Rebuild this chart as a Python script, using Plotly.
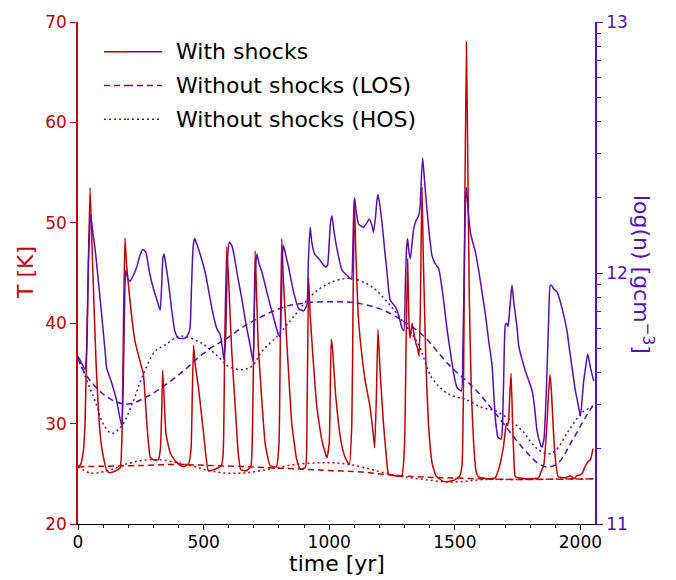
import plotly.graph_objects as go
import numpy as np

RED = "#c40000"
PURPLE = "#5a0db5"
FONT = "DejaVu Sans"

# ---------------- data ----------------
# With shocks: temperature [K]
t_T_shock = [0, 10, 20, 28, 38, 48, 58, 72, 88, 100, 115, 127, 150, 168, 176, 182, 187, 193, 200, 212,
             227, 247, 260, 274, 287, 300, 320, 328, 333, 337, 342, 350, 368, 390, 418, 440, 450, 455, 460, 466,
             480, 500, 519, 540, 570, 578, 584, 592, 600, 612, 625, 638, 648, 670, 688, 696, 705, 712, 718, 730,
             745, 765, 790, 800, 806, 811, 818, 831, 851, 870, 884, 905, 912, 918, 924, 931, 951, 971, 991, 1000,
             1004, 1008, 1013, 1025, 1037, 1050, 1064, 1080, 1090, 1095, 1100, 1106, 1115, 1124, 1143, 1163, 1175, 1181, 1188, 1194,
             1203, 1216, 1228, 1236, 1260, 1289, 1300, 1306, 1312, 1318, 1322, 1330, 1337, 1345, 1352, 1358, 1363, 1369, 1375, 1385,
             1395, 1410, 1425, 1450, 1470, 1500, 1520, 1529, 1535, 1540, 1546, 1552, 1558, 1566, 1575, 1585, 1594, 1630, 1661, 1675,
             1693, 1705, 1709, 1714, 1719, 1724, 1730, 1736, 1741, 1780, 1833, 1845, 1855, 1865, 1873, 1879, 1885, 1893, 1902, 1912,
             1940, 1960, 1975, 1985, 2000, 2010, 2020, 2030, 2040, 2050]
T_shock = [25.7, 25.9, 27, 30, 42, 53.5, 46, 36, 29, 26.8, 25.3, 25.1, 25.3, 25.6, 30, 42, 48.5, 46, 44, 41,
           38.2, 36.2, 35, 30, 26.7, 26.4, 26.4, 27.5, 31, 35.3, 33, 29, 27, 26.2, 25.7, 26, 27.5, 33, 37.8, 36,
           33.5, 29, 25.3, 25.4, 25.8, 27, 38, 47.6, 44, 37.2, 32, 27, 25.4, 25.3, 25.7, 32, 47.2, 42, 37.5, 33,
           28, 25.8, 25.7, 28, 40, 48.4, 44, 38.2, 30, 26.5, 25.5, 25.6, 32, 44.5, 41, 38.2, 31.6, 28.3, 26.6, 28,
           33, 38.4, 37.5, 33, 30, 27.8, 26.6, 25.9, 30, 42, 52.3, 47, 41, 38.2, 34.3, 31.6, 29, 27.6, 33, 39.4,
           35, 30, 26.5, 25.0, 24.8, 24.8, 28, 38, 46.4, 39.7, 38.5, 40, 39, 38, 37.5, 36.7, 42, 53.5, 46, 36,
           30, 26, 24.8, 24.3, 24.2, 24.4, 24.8, 26, 35, 52, 68, 55, 42, 33, 28, 25.2, 24.7, 24.5, 24.6, 25.5,
           27.6, 30, 29.8, 30.3, 33, 35.0, 30, 26, 24.7, 24.5, 24.6, 25.3, 26, 29.3, 33, 34.9, 33, 29, 26, 24.7,
           24.6, 24.8, 24.5, 24.8, 24.9, 25.2, 25.8, 26.2, 26.4, 27.5]

# With shocks: log(n)
t_n_shock = [0, 10, 20, 28, 35, 42, 50, 58, 68, 88, 108, 114, 135, 154, 174, 180, 185, 190, 198, 207,
             220, 234, 248, 258, 270, 285, 300, 315, 327, 333, 338, 343, 350, 360, 372, 386, 400, 426, 440, 446,
             452, 458, 464, 475, 486, 506, 520, 533, 552, 566, 575, 581, 588, 595, 602, 612, 619, 635, 652, 668,
             685, 697, 702, 708, 712, 720, 732, 748, 765, 782, 798, 804, 810, 814, 818, 825, 838, 858, 878, 898,
             911, 917, 924, 931, 942, 964, 985, 993, 1000, 1005, 1011, 1020, 1031, 1051, 1071, 1088, 1094, 1098, 1101, 1108,
             1117, 1137, 1150, 1159, 1170, 1176, 1184, 1190, 1194, 1200, 1210, 1220, 1230, 1243, 1263, 1276, 1290, 1297, 1303, 1308,
             1312, 1318, 1323, 1330, 1336, 1346, 1356, 1362, 1366, 1372, 1380, 1389, 1400, 1409, 1420, 1436, 1446, 1456, 1466, 1476,
             1486, 1496, 1509, 1526, 1532, 1538, 1542, 1546, 1552, 1562, 1572, 1582, 1595, 1608, 1622, 1635, 1648, 1661, 1672, 1685,
             1690, 1695, 1701, 1706, 1712, 1718, 1724, 1728, 1735, 1748, 1754, 1781, 1808, 1818, 1827, 1840, 1847, 1855, 1865, 1873,
             1880, 1885, 1895, 1907, 1927, 1947, 1953, 1965, 1980, 1990, 2000, 2007, 2013, 2020, 2029, 2035, 2040, 2053]
logn_shock = [11.668, 11.650, 11.630, 11.615, 11.70, 12.05, 12.234, 12.17, 12.096, 11.898, 11.688, 11.622, 11.56, 11.49, 11.391, 11.55, 11.85, 12.011, 11.98, 11.967,
              11.99, 12.024, 12.075, 12.094, 12.083, 12.0, 11.938, 11.89, 11.852, 11.95, 12.06, 12.076, 12.03, 11.964, 11.86, 11.767, 11.74, 11.74, 11.76, 11.78,
              11.95, 12.1, 12.138, 12.11, 12.076, 12.004, 11.93, 11.859, 11.78, 11.754, 11.70, 11.655, 11.75, 12.05, 12.123, 12.11, 12.083, 11.99, 11.898, 11.80,
              11.714, 11.648, 11.85, 12.04, 12.076, 12.04, 12.004, 11.94, 11.872, 11.81, 11.754, 11.746, 11.90, 12.08, 12.109, 12.08, 12.024, 11.925, 11.859, 11.849,
              11.872, 12.05, 12.182, 12.12, 12.076, 12.05, 12.024, 12.03, 12.12, 12.20, 12.228, 12.16, 12.096, 12.011, 11.991, 11.975, 12.10, 12.26, 12.30, 12.24,
              12.195, 12.182, 12.20, 12.215, 12.19, 12.162, 12.22, 12.29, 12.313, 12.28, 12.202, 12.10, 12.004, 11.892, 11.866, 11.833, 11.78, 11.77, 11.95, 12.10,
              12.136, 12.08, 12.057, 12.12, 12.175, 12.21, 12.228, 12.27, 12.36, 12.458, 12.36, 12.254, 12.14, 12.07, 12.04, 12.017, 11.96, 11.885, 11.80, 11.727,
              11.66, 11.596, 11.543, 11.53, 11.70, 12.05, 12.28, 12.34, 12.26, 12.162, 12.12, 12.083, 12.01, 11.925, 11.833, 11.727, 11.635, 11.424, 11.345, 11.339,
              11.40, 11.60, 11.793, 11.80, 11.787, 11.85, 11.92, 11.951, 11.88, 11.78, 11.714, 11.609, 11.53, 11.46, 11.372, 11.32, 11.306, 11.34, 11.55, 11.80,
              11.951, 11.951, 11.935, 11.925, 11.859, 11.767, 11.72, 11.635, 11.53, 11.48, 11.431, 11.50, 11.569, 11.62, 11.677, 11.65, 11.622, 11.569]

# Without shocks (LOS)
t_los_n = [0, 28, 94, 161, 207, 280, 360, 426, 493, 559, 586, 665, 745, 825, 931, 1037, 1104, 1197, 1276, 1369,
           1476, 1582, 1675, 1768, 1834, 1874, 1914, 1967, 2020, 2053]
logn_los = [11.66, 11.60, 11.523, 11.483, 11.479, 11.51, 11.563, 11.615, 11.675, 11.72, 11.735, 11.79, 11.833, 11.866, 11.883, 11.885, 11.881, 11.859, 11.82, 11.755,
            11.635, 11.536, 11.424, 11.306, 11.24, 11.227, 11.246, 11.332, 11.424, 11.477]
t_los_T = [0, 100, 254, 386, 519, 652, 705, 864, 997, 1130, 1263, 1382, 1476, 1600, 1741, 2053]
T_los = [25.7, 25.75, 25.83, 25.93, 25.83, 25.73, 25.66, 25.5, 25.34, 25.17, 24.84, 24.67, 24.6, 24.5, 24.44, 24.5]

# Without shocks (HOS)
t_hos_n = [0, 28, 68, 101, 134, 174, 220, 254, 307, 347, 400, 426, 480, 519, 560, 599, 652, 692, 732, 798,
           864, 931, 997, 1064, 1104, 1170, 1236, 1303, 1356, 1409, 1476, 1542, 1608, 1661, 1714, 1768, 1821, 1867, 1900, 1953,
           2007, 2053]
logn_hos = [11.665, 11.59, 11.49, 11.398, 11.361, 11.391, 11.49, 11.582, 11.688, 11.714, 11.747, 11.747, 11.727, 11.701, 11.665, 11.628, 11.615, 11.628, 11.688, 11.754,
            11.833, 11.912, 11.958, 11.978, 11.975, 11.945, 11.879, 11.793, 11.714, 11.582, 11.517, 11.497, 11.464, 11.451, 11.418, 11.372, 11.306, 11.279, 11.292, 11.372,
            11.444, 11.47]
t_hos_T = [0, 54, 121, 187, 254, 320, 386, 450, 519, 586, 652, 700, 772, 864, 971, 1064, 1157, 1236, 1300, 1382,
           1476, 1540, 1608, 1741, 2053]
T_hos = [25.7, 25.07, 25.34, 25.93, 26.33, 26.4, 26.16, 25.8, 25.34, 25.07, 25.07, 25.2, 25.5, 25.93, 26.1, 26.0, 25.5, 25.0, 24.7, 24.42,
         24.18, 24.25, 24.42, 24.44, 24.5]

x_ticks = [0, 500, 1000, 1500, 2000]
T_ticks = [20, 30, 40, 50, 60, 70]
n_ticks = [11, 12, 13]
legend_labels = ["With shocks", "Without shocks (LOS)", "Without shocks (HOS)"]

# ---------------- figure ----------------
fig = go.Figure()
W = 1.5
fig.add_trace(go.Scatter(x=t_T_shock, y=T_shock, mode="lines", line=dict(color=RED, width=W, shape="spline", smoothing=0.4), yaxis="y", showlegend=False))
fig.add_trace(go.Scatter(x=t_los_T, y=T_los, mode="lines", line=dict(color=RED, width=W, dash="6px,4px", shape="spline"), yaxis="y", showlegend=False))
fig.add_trace(go.Scatter(x=t_hos_T, y=T_hos, mode="lines", line=dict(color=RED, width=W, dash="2px,3px", shape="spline"), yaxis="y", showlegend=False))
fig.add_trace(go.Scatter(x=t_los_n, y=logn_los, mode="lines", line=dict(color=PURPLE, width=W, dash="6px,4px", shape="spline"), yaxis="y2", showlegend=False))
fig.add_trace(go.Scatter(x=t_hos_n, y=logn_hos, mode="lines", line=dict(color=PURPLE, width=W, dash="2px,3px", shape="spline"), yaxis="y2", showlegend=False))
fig.add_trace(go.Scatter(x=t_n_shock, y=logn_shock, mode="lines", line=dict(color=PURPLE, width=W, shape="spline", smoothing=0.5), yaxis="y2", showlegend=False))

minor_log = [d + np.log10(k) for d in (11, 12) for k in range(2, 10)]

fig.update_layout(
    width=676, height=580,
    margin=dict(l=78, r=81, t=18, b=56),
    paper_bgcolor="white", plot_bgcolor="white",
    font=dict(family=FONT, size=17, color="black"),
    xaxis=dict(range=[0, 2058], showgrid=False, zeroline=False, showline=True, linecolor="black", linewidth=1.2,
               ticks="outside", ticklen=5, tickwidth=1.2, tickcolor="black", tickvals=x_ticks,
               tickfont=dict(size=17, color="black"), ticklabelstandoff=-3,
               minor=dict(ticks="outside", ticklen=3, tickwidth=1, tickcolor="black", dtick=100)),
    yaxis=dict(range=[20, 70], showgrid=False, zeroline=False, showline=True, linecolor=RED, linewidth=1.5,
               ticks="outside", ticklen=6, tickwidth=1.2, tickcolor=RED, tickvals=T_ticks,
               tickfont=dict(size=17, color=RED)),
    yaxis2=dict(range=[11, 13], overlaying="y", side="right", showgrid=False, zeroline=False, showline=True,
                linecolor=PURPLE, linewidth=1.5, ticks="outside", ticklen=6, tickwidth=1.2, tickcolor=PURPLE,
                tickvals=n_ticks, ticktext=[str(v) for v in n_ticks], tickfont=dict(size=17, color=PURPLE),
                minor=dict(ticks="outside", ticklen=4, tickwidth=1, tickcolor=PURPLE, tickvals=minor_log)),
    showlegend=False,
)

ann = [
    dict(text="time [yr]", x=0.5, y=-0.1085, xref="paper", yref="paper", showarrow=False,
         xanchor="center", yanchor="bottom", font=dict(size=22, color="black", family=FONT)),
    dict(text="T [K]", x=-0.1006, y=0.502, xref="paper", yref="paper", showarrow=False, textangle=-90,
         xanchor="center", yanchor="middle", font=dict(size=22, color=RED, family=FONT)),
    dict(text="log(n) [gcm<sup>−3</sup>]", x=1.093, y=0.498, xref="paper", yref="paper", showarrow=False, textangle=90,
         xanchor="center", yanchor="middle", font=dict(size=22, color=PURPLE, family=FONT)),
]
shapes = []
leg_y = [0.9407, 0.8735, 0.8063]
dashes = ["solid", "6px,4px", "2px,3px"]
for lab, yy, dd in zip(legend_labels, leg_y, dashes):
    shapes.append(dict(type="line", xref="paper", yref="paper", x0=0.0503, x1=0.0948, y0=yy, y1=yy,
                       line=dict(color=RED, width=W, dash=dd)))
    shapes.append(dict(type="line", xref="paper", yref="paper", x0=0.0948, x1=0.1625, y0=yy, y1=yy,
                       line=dict(color=PURPLE, width=W, dash=dd)))
    ann.append(dict(text=lab, x=0.1857, y=yy, xref="paper", yref="paper", showarrow=False,
                    xanchor="left", yanchor="middle", font=dict(size=22, color="black", family=FONT)))
fig.update_layout(annotations=ann, shapes=shapes)

fig.write_html("out.html")
